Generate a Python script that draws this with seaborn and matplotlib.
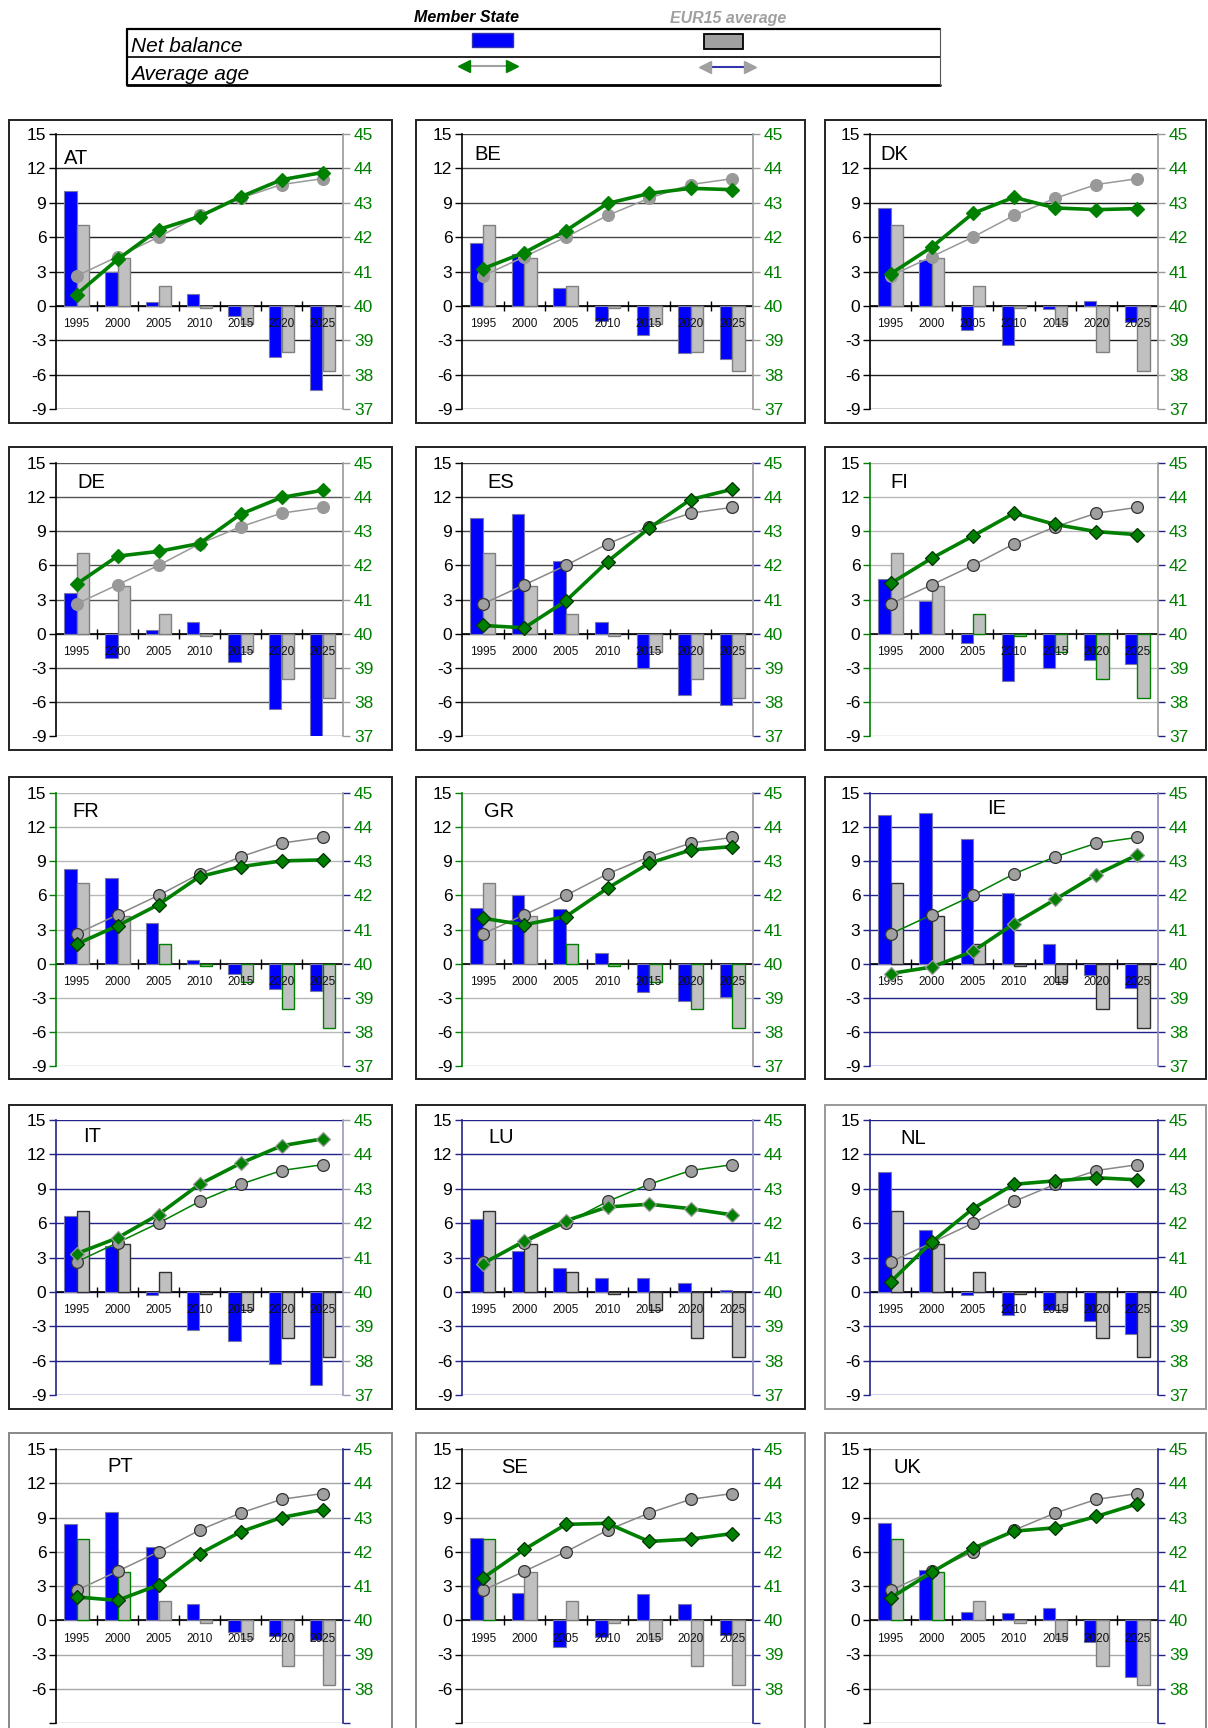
import numpy as np
import pandas as pd
import matplotlib
matplotlib.use("Agg")
import matplotlib.pyplot as plt
from matplotlib.patches import Rectangle
import seaborn as sns

sns.set_theme(style="white")
plt.rcParams["font.family"] = ["Liberation Sans", "DejaVu Sans"]

# ---------------------------------------------------------------- data
YEARS = ["1995", "2000", "2005", "2010", "2015", "2020", "2025"]
COUNTRIES = ["AT", "BE", "DK", "DE", "ES", "FI", "FR", "GR", "IE",
             "IT", "LU", "NL", "PT", "SE", "UK"]

# EUR15 reference series (same in every panel)
EU15_BALANCE = [7.1, 4.2, 1.7, -0.2, -1.6, -4.0, -5.7]
EU15_AGE = [40.87, 41.43, 42.0, 42.63, 43.13, 43.53, 43.7]

# Net balance of each member state
AT_BALANCE = [10.0, 3.0, 0.3, 1.0, -0.9, -4.5, -7.3]
BE_BALANCE = [5.5, 4.5, 1.6, -1.3, -2.5, -4.1, -4.6]
DK_BALANCE = [8.5, 4.0, -2.1, -3.4, -0.3, 0.4, -1.4]
DE_BALANCE = [3.6, -2.1, 0.3, 1.0, -2.5, -6.6, -9.2]
ES_BALANCE = [10.2, 10.5, 6.4, 1.0, -3.0, -5.4, -6.3]
FI_BALANCE = [4.8, 2.9, -0.8, -4.2, -3.0, -2.3, -2.7]
FR_BALANCE = [8.3, 7.5, 3.6, 0.3, -0.9, -2.2, -2.4]
GR_BALANCE = [4.9, 6.0, 4.8, 0.9, -2.5, -3.3, -2.9]
IE_BALANCE = [13.1, 13.2, 11.0, 6.2, 1.7, -1.0, -2.1]
IT_BALANCE = [6.6, 4.0, -0.3, -3.3, -4.3, -6.3, -8.1]
LU_BALANCE = [6.4, 3.6, 2.1, 1.2, 1.2, 0.8, 0.2]
NL_BALANCE = [10.5, 5.4, -0.3, -2.0, -1.6, -2.5, -3.7]
PT_BALANCE = [8.4, 9.5, 6.4, 1.45, -1.0, -1.4, -1.7]
SE_BALANCE = [7.2, 2.4, -2.3, -1.5, 2.3, 1.45, -1.3]
UK_BALANCE = [8.5, 4.4, 0.7, 0.6, 1.1, -1.9, -5.0]

# Average age of each member state
AT_AGE = [40.33, 41.35, 42.22, 42.6, 43.17, 43.67, 43.88]
BE_AGE = [41.08, 41.55, 42.19, 42.98, 43.27, 43.42, 43.38]
DK_AGE = [40.93, 41.71, 42.69, 43.16, 42.85, 42.8, 42.83]
DE_AGE = [41.45, 42.27, 42.41, 42.64, 43.5, 43.99, 44.2]
ES_AGE = [40.24, 40.17, 40.96, 42.11, 43.09, 43.93, 44.23]
FI_AGE = [41.47, 42.21, 42.86, 43.53, 43.2, 42.99, 42.9]
FR_AGE = [40.57, 41.11, 41.73, 42.55, 42.84, 43.01, 43.04]
GR_AGE = [41.33, 41.14, 41.38, 42.21, 42.94, 43.33, 43.43]
IE_AGE = [39.71, 39.9, 40.36, 41.17, 41.88, 42.61, 43.19]
IT_AGE = [41.11, 41.57, 42.25, 43.13, 43.74, 44.25, 44.45]
LU_AGE = [40.82, 41.48, 42.07, 42.47, 42.55, 42.42, 42.24]
NL_AGE = [40.29, 41.45, 42.42, 43.13, 43.23, 43.32, 43.26]
PT_AGE = [40.68, 40.58, 41.03, 41.94, 42.58, 43.0, 43.23]
SE_AGE = [41.23, 42.07, 42.8, 42.83, 42.3, 42.37, 42.53]
UK_AGE = [40.65, 41.4, 42.1, 42.6, 42.7, 43.03, 43.4]

BALANCE = {"AT": AT_BALANCE, "BE": BE_BALANCE, "DK": DK_BALANCE,
           "DE": DE_BALANCE, "ES": ES_BALANCE, "FI": FI_BALANCE,
           "FR": FR_BALANCE, "GR": GR_BALANCE, "IE": IE_BALANCE,
           "IT": IT_BALANCE, "LU": LU_BALANCE, "NL": NL_BALANCE,
           "PT": PT_BALANCE, "SE": SE_BALANCE, "UK": UK_BALANCE}
AGE = {"AT": AT_AGE, "BE": BE_AGE, "DK": DK_AGE, "DE": DE_AGE,
       "ES": ES_AGE, "FI": FI_AGE, "FR": FR_AGE, "GR": GR_AGE,
       "IE": IE_AGE, "IT": IT_AGE, "LU": LU_AGE, "NL": NL_AGE,
       "PT": PT_AGE, "SE": SE_AGE, "UK": UK_AGE}

# ---------------------------------------------------------------- styling
BLUE = "#0000FF"
GREY_BAR = "#C0C0C0"
GREEN = "#008000"
NAVY = "#22228A"

GRID_COLOR = {"AT": "#202020", "BE": "#454545", "DK": "#202020",
              "DE": "#555555", "ES": "#454545", "FI": "#b8b8b8",
              "FR": "#b8b8b8", "GR": "#b8b8b8", "IE": NAVY, "IT": NAVY,
              "LU": NAVY, "NL": NAVY, "PT": "#a8a8a8", "SE": "#a8a8a8",
              "UK": "#a8a8a8"}
LEFT_SPINE = {"FI": GREEN, "FR": GREEN, "GR": GREEN, "IE": NAVY,
              "IT": NAVY, "LU": NAVY, "NL": NAVY}
RIGHT_TICK = {"AT": "#999999", "BE": "#999999", "DK": "#999999",
              "DE": "#999999", "IT": "#9999aa"}
RIGHT_SPINE = {"IE": "#8888bb", "IT": "#9999bb", "LU": "#8888bb",
               "NL": NAVY, "PT": NAVY, "SE": NAVY, "UK": NAVY}
GREEN_EDGE_BARS = {"FI": [2, 3, 4, 5, 6], "FR": [2, 3, 4, 5, 6],
                   "GR": [2, 3, 4, 5, 6], "PT": [0, 1], "SE": [0],
                   "UK": [0, 1]}
DARK_EDGE_BARS = {"IE", "IT", "LU", "NL"}
LABEL_POS = {"AT": (-0.3, 12.9), "BE": (-0.2, 13.2), "DK": (-0.25, 13.2),
             "DE": (0.03, 13.3), "ES": (0.1, 13.3), "FI": (0.0, 13.3),
             "FR": (-0.1, 13.4), "GR": (0.03, 13.4), "IE": (2.35, 13.6),
             "IT": (0.15, 13.6), "LU": (0.13, 13.5), "NL": (0.23, 13.4),
             "PT": (0.75, 13.5), "SE": (0.44, 13.4), "UK": (0.06, 13.4)}
PLAIN_AVG = {"AT", "BE", "DK", "DE"}
GREEN_AVG_LINE = {"IE", "IT", "LU"}

W, H = 1208, 1728
PLOT_X = [(56, 343), (462, 753), (870, 1158)]
PLOT_Y = [(134, 409), (463, 736), (793, 1066), (1120, 1395), (1449, 1723)]
FRAME_X = [(9, 392), (416, 805), (825, 1206)]
FRAME_Y = [(120, 423), (447, 750), (777, 1079), (1105, 1409), (1433, 1745)]


def fig_rect(x0, x1, y0, y1):
    return [x0 / W, 1 - y1 / H, (x1 - x0) / W, (y1 - y0) / H]


fig = plt.figure(figsize=(W / 100, H / 100), dpi=100)
fig.patch.set_facecolor("white")

xs = np.arange(len(YEARS))
LEFT_TICKS = list(range(-9, 16, 3))
RIGHT_TICKS = list(range(37, 46))

for i, code in enumerate(COUNTRIES):
    r, c = divmod(i, 3)
    last_row = r == 4

    # panel frame
    fx0, fx1 = FRAME_X[c]
    fy0, fy1 = FRAME_Y[r]
    frame_col = "#222222" if code != "NL" else "#999999"
    if last_row:
        frame_col = "#888888"
    fig.add_artist(Rectangle((fx0 / W, 1 - fy1 / H), (fx1 - fx0) / W,
                             (fy1 - fy0) / H, transform=fig.transFigure,
                             fill=False, ec=frame_col, lw=1.4))

    ax = fig.add_axes(fig_rect(PLOT_X[c][0], PLOT_X[c][1],
                               PLOT_Y[r][0], PLOT_Y[r][1]))
    df = pd.DataFrame({
        "year": YEARS * 2,
        "value": BALANCE[code] + EU15_BALANCE,
        "series": ["Member State"] * 7 + ["EUR15 average"] * 7,
    })
    sns.barplot(data=df, x="year", y="value", hue="series",
                hue_order=["Member State", "EUR15 average"],
                palette={"Member State": BLUE, "EUR15 average": GREY_BAR},
                width=0.6, saturation=1, legend=False, ax=ax, zorder=2)

    for bar in ax.containers[0]:
        bar.set_edgecolor("#7777aa")
        bar.set_linewidth(0.8)
    green_idx = GREEN_EDGE_BARS.get(code, [])
    for k, bar in enumerate(ax.containers[1]):
        if k in green_idx:
            bar.set_edgecolor(GREEN)
        elif code in DARK_EDGE_BARS:
            bar.set_edgecolor("#303030")
        else:
            bar.set_edgecolor("#808080")
        bar.set_linewidth(1.0)

    ax.set_xlim(-0.5, 6.5)
    ax.set_ylim(-9, 15)
    ax.set_yticks(LEFT_TICKS)
    # the bottom row runs off the page: its lowest label is not shown
    ax.set_yticklabels(["" if (last_row and v == -9) else str(v)
                        for v in LEFT_TICKS])
    ax.set_xticks([])
    ax.set_xlabel("")
    ax.set_ylabel("")
    ax.grid(axis="y", color=GRID_COLOR[code], lw=1.0)
    ax.grid(axis="x", visible=False)
    ax.set_axisbelow(True)
    lcol = LEFT_SPINE.get(code, "#000000")
    ax.tick_params(axis="y", left=True, direction="out", length=5, width=1,
                   color=lcol, labelsize=12.5, labelcolor="black", pad=2)
    for side in ("top", "bottom", "right"):
        ax.spines[side].set_visible(False)
    ax.spines["left"].set_color(lcol)
    ax.spines["left"].set_linewidth(1.2)

    # category axis on the zero line
    ax.axhline(0, color="black", lw=1.2, zorder=1.5)
    ax.plot(xs[:-1] + 0.5, np.zeros(6), ls="none", marker="|", ms=7,
            mew=1.0, color="black", zorder=1.6)
    for k, yr in enumerate(YEARS):
        ax.text(k, -1.6, yr, ha="center", va="center", fontsize=8.5,
                color="#111111", zorder=5)

    lx, ly = LABEL_POS[code]
    lbl = ax.text(lx, ly, code, ha="left", va="center", fontsize=14.5,
                  color="black", zorder=5)
    if code == "ES":
        lbl.set_bbox(dict(fc="white", ec="none", pad=2))

    # average age on the secondary axis
    ax2 = ax.twinx()
    if code in PLAIN_AVG:
        avg_line, avg_edge, avg_face = "#999999", "#999999", "#999999"
    elif code in GREEN_AVG_LINE:
        avg_line, avg_edge, avg_face = GREEN, "#333333", "#A0A0A0"
    else:
        avg_line, avg_edge, avg_face = "#888888", "#333333", "#A0A0A0"
    sns.lineplot(x=xs, y=EU15_AGE, ax=ax2, color=avg_line, lw=1.1,
                 marker="o", markersize=8.5, markerfacecolor=avg_face,
                 markeredgecolor=avg_edge, markeredgewidth=0.9, sort=False,
                 zorder=3)
    if code in PLAIN_AVG:
        d_edge = GREEN
    elif code in GREEN_AVG_LINE:
        d_edge = "#999999"
    else:
        d_edge = "#003300"
    sns.lineplot(x=xs, y=AGE[code], ax=ax2, color=GREEN, lw=2.6,
                 marker="D", markersize=7, markerfacecolor=GREEN,
                 markeredgecolor=d_edge, markeredgewidth=0.9, sort=False,
                 zorder=4)
    ax2.set_xlim(-0.5, 6.5)
    ax2.set_ylim(37, 45)
    ax2.set_yticks(RIGHT_TICKS)
    ax2.set_yticklabels(["" if (last_row and v == 37) else str(v)
                         for v in RIGHT_TICKS])
    ax2.set_xlabel("")
    ax2.set_ylabel("")
    ax2.grid(False)
    rtick = RIGHT_TICK.get(code, NAVY)
    ax2.tick_params(axis="y", right=True, direction="out", length=5,
                    width=1, color=rtick, labelcolor=GREEN, labelsize=12.5,
                    pad=3)
    for side in ("top", "bottom", "left"):
        ax2.spines[side].set_visible(False)
    ax2.spines["right"].set_color(RIGHT_SPINE.get(code, "#999999"))
    ax2.spines["right"].set_linewidth(1.2)

# ---------------------------------------------------------------- legend table
lax = fig.add_axes([0, 1 - 95 / H, 1, 95 / H])
lax.set_xlim(0, W)
lax.set_ylim(95, 0)
lax.axis("off")
lax.plot([127, 940], [29, 29], color="black", lw=1.6)
lax.plot([127, 940], [57, 57], color="black", lw=1.2)
lax.plot([127, 940], [85, 85], color="black", lw=2.0)
lax.plot([127, 127], [29, 85], color="black", lw=1.6)
lax.plot([940, 940], [29, 85], color="#555555", lw=0.8)
lax.text(467, 18, "Member State", ha="center", va="center", fontsize=11.5,
         style="italic", weight="bold", color="black")
lax.text(728, 18, "EUR15 average", ha="center", va="center", fontsize=11.5,
         style="italic", weight="bold", color="#A0A0A0")
lax.text(131, 46, "Net balance", ha="left", va="center", fontsize=15,
         style="italic", color="black")
lax.text(131, 74, "Average age", ha="left", va="center", fontsize=15,
         style="italic", color="black")
lax.add_patch(Rectangle((472, 33), 41, 14, fc=BLUE, ec="#3333aa", lw=1))
lax.add_patch(Rectangle((704, 34), 39, 15, fc="#A0A0A0", ec="black", lw=1.3))
lax.plot([466, 510], [66, 66], color="#A0A0A0", lw=1.5)
lax.plot([464], [66], marker="<", color=GREEN, ms=9, ls="none")
lax.plot([512], [66], marker=">", color=GREEN, ms=9, ls="none")
lax.plot([707, 748], [67, 67], color="#3333aa", lw=1.5)
lax.plot([705], [67], marker="<", color="#A0A0A0", ms=9, ls="none")
lax.plot([750], [67], marker=">", color="#A0A0A0", ms=9, ls="none")

fig.savefig("out.png", dpi=100, facecolor="white")
